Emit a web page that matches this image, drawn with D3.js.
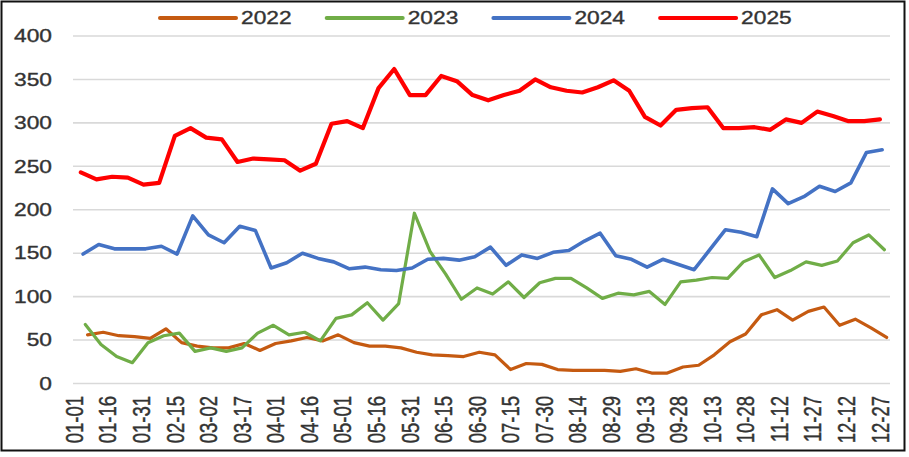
<!DOCTYPE html>
<html>
<head>
<meta charset="utf-8">
<script src="https://cdnjs.cloudflare.com/ajax/libs/d3/7.8.5/d3.min.js"></script>
<style>
  body { margin: 0; background: #fff; }
  svg { display: block; }
</style>
</head>
<body>
<div id="chart"></div>
<script>
// weekly values, one array per year (52 weeks each)
var years = ['2022', '2023', '2024', '2025'];
var colors = ['#C55A11', '#70AD47', '#4472C4', '#FF0000'];
var widths = [3.2, 3.2, 3.6, 4.2];
// first weekly date of each year, placed on a common calendar
var firstDates = ['01-07', '01-06', '01-05', '01-04'];

var v2022 = [56, 59, 55, 54, 52, 63, 47, 43, 41, 41, 46, 38, 46, 49, 53, 49, 56, 47, 43, 43,
             41, 36, 33, 32, 31, 36, 33, 16, 23, 22, 16, 15, 15, 15, 14, 17, 12, 12, 19, 21,
             33, 48, 57, 79, 85, 73, 83, 88, 67, 74, 64, 53];
var v2023 = [68, 45, 31, 24, 47, 55, 58, 37, 41, 37, 41, 58, 67, 56, 59, 49, 75, 79, 93, 73,
             92, 196, 152, 126, 97, 110, 103, 117, 99, 116, 121, 121, 110, 98, 104, 102, 106, 91, 117, 119,
             122, 121, 140, 148, 122, 130, 140, 136, 141, 162, 171, 154];
var v2024 = [149, 160, 155, 155, 155, 158, 149, 193, 171, 162, 181, 176, 133, 139, 150, 144, 140, 132, 134, 131,
             130, 133, 143, 144, 142, 146, 157, 136, 148, 144, 151, 153, 164, 173, 147, 143, 134, 143, 137, 131,
             154, 177, 174, 169, 224, 207, 215, 227, 221, 231, 266, 269];
var v2025 = [243, 235, 238, 237, 229, 231, 285, 294, 283, 281, 255, 259, 258, 257, 245, 253, 299, 302, 294, 340,
             362, 332, 332, 354, 348, 332, 326, 332, 337, 350, 341, 337, 335, 341, 349, 337, 307, 297, 315, 317,
             318, 294, 294, 295, 292, 304, 300, 313, 308, 302, 302, 304];
var values = [v2022, v2023, v2024, v2025];

var tickLabels = ['01-01', '01-16', '01-31', '02-15', '03-02', '03-17', '04-01', '04-16', '05-01',
                  '05-16', '05-31', '06-15', '06-30', '07-15', '07-30', '08-14', '08-29', '09-13',
                  '09-28', '10-13', '10-28', '11-12', '11-27', '12-12', '12-27'];
var yTicks = [0, 50, 100, 150, 200, 250, 300, 350, 400];

var width = 909, height = 457;
var stretch = 1.3; // text in the picture is widened horizontally
var font = '"Liberation Sans", Arial, sans-serif';
var textColor = '#333';

var parse = d3.utcParse('%Y-%m-%d');
var md = function(s) { return parse('2025-' + s); };
var halfDay = 12 * 3600 * 1000;

var x = d3.scaleUtc()
  .domain([new Date(+md('01-01') - halfDay), new Date(+parse('2026-01-01') - halfDay)])
  .range([73, 890]);
var y = d3.scaleLinear().domain([0, 400]).range([383.5, 36]);

var series = years.map(function(yr, k) {
  var start = md(firstDates[k]);
  return {
    year: yr,
    color: colors[k],
    width: widths[k],
    points: values[k].map(function(v, i) { return { date: d3.utcDay.offset(start, 7 * i), value: v }; })
  };
});

var svg = d3.select('#chart')
  .append('svg')
  .attr('width', width)
  .attr('height', height);

svg.append('rect')
  .attr('width', width).attr('height', height)
  .attr('fill', '#fff');

// gridlines
svg.append('g')
  .selectAll('line')
  .data(yTicks)
  .enter().append('line')
    .attr('x1', x.range()[0]).attr('x2', x.range()[1])
    .attr('y1', function(d) { return y(d); })
    .attr('y2', function(d) { return y(d); })
    .attr('stroke', '#d9d9d9')
    .attr('stroke-width', 1.6);

function styleText(sel, size) {
  sel.attr('font-family', font)
    .attr('font-size', size)
    .attr('fill', textColor)
    .attr('stroke', textColor)
    .attr('stroke-width', 0.35);
}

// y labels
svg.append('g')
  .selectAll('text')
  .data(yTicks)
  .enter().append('text')
    .attr('transform', function(d) { return 'translate(52,' + y(d) + ') scale(' + stretch + ',1)'; })
    .attr('dy', '0.36em')
    .attr('text-anchor', 'end')
    .call(styleText, 17.5)
    .text(function(d) { return d; });

// x labels, rotated
svg.append('g')
  .selectAll('text')
  .data(tickLabels)
  .enter().append('text')
    .attr('transform', function(d) {
      return 'translate(' + x(md(d)) + ',396) scale(' + stretch + ',1) rotate(-90)';
    })
    .attr('dy', '0.36em')
    .attr('text-anchor', 'end')
    .call(styleText, 18.5)
    .text(function(d) { return d; });

var line = d3.line()
  .x(function(d) { return x(d.date); })
  .y(function(d) { return y(d.value); });

svg.append('g')
  .selectAll('path')
  .data(series)
  .enter().append('path')
    .attr('d', function(d) { return line(d.points); })
    .attr('fill', 'none')
    .attr('stroke', function(d) { return d.color; })
    .attr('stroke-width', function(d) { return d.width; })
    .attr('stroke-linejoin', 'round')
    .attr('stroke-linecap', 'round');

// legend
var legend = svg.append('g')
  .selectAll('g')
  .data(series)
  .enter().append('g')
    .attr('transform', function(d, i) { return 'translate(' + (160 + i * 166.7) + ',18)'; });

legend.append('line')
  .attr('x1', 0).attr('x2', 76)
  .attr('stroke', function(d) { return d.color; })
  .attr('stroke-width', 4)
  .attr('stroke-linecap', 'round');

legend.append('text')
  .attr('transform', 'translate(81,0) scale(' + stretch + ',1)')
  .attr('dy', '0.36em')
  .call(styleText, 17.5)
  .text(function(d) { return d.year; });

// frame
svg.append('rect')
  .attr('x', 1.5).attr('y', 1.5)
  .attr('width', 903).attr('height', 449)
  .attr('fill', 'none')
  .attr('stroke', '#111')
  .attr('stroke-width', 2);
</script>
</body>
</html>
